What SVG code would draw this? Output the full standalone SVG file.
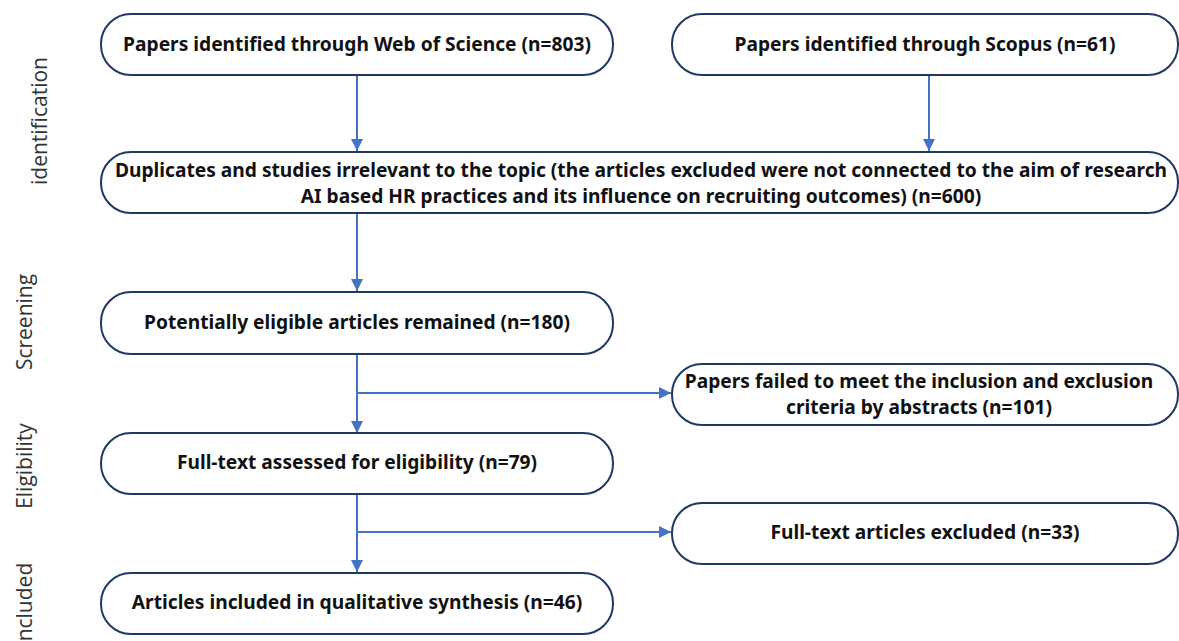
<svg xmlns="http://www.w3.org/2000/svg" width="1179" height="641" viewBox="0 0 1179 641">
<style>
.box{fill:#fff;stroke:#1F3864;stroke-width:2}
.t{font-family:"Noto Sans","Liberation Sans",Arial,sans-serif;font-weight:bold;font-size:19.2px;fill:#111;text-anchor:middle}
.side{font-family:"Open Sans","Liberation Sans",sans-serif;font-size:21px;fill:#333;text-anchor:middle}
.c{fill:none;stroke:#4472C4;stroke-width:2}
</style>
<defs>
<marker id="ah" viewBox="0 0 12 12" refX="12" refY="6" markerWidth="12" markerHeight="12" markerUnits="userSpaceOnUse" orient="auto">
<path d="M0,0 L12,6 L0,12 Z" fill="#4472C4"/>
</marker>
</defs>
<rect width="1179" height="641" fill="#fff"/>
<g id="labels">
<text class="side" transform="translate(47,121) rotate(-90)">identification</text>
<text class="side" transform="translate(32,322) rotate(-90)">Screening</text>
<text class="side" transform="translate(32,466) rotate(-90)">Eligibility</text>
<text class="side" transform="translate(32,605) rotate(-90)">Included</text>
</g>
<g id="connectors">
<line class="c" x1="357" y1="75" x2="357" y2="151" marker-end="url(#ah)"/>
<line class="c" x1="929" y1="75" x2="929" y2="151" marker-end="url(#ah)"/>
<line class="c" x1="357" y1="213" x2="357" y2="291" marker-end="url(#ah)"/>
<line class="c" x1="357" y1="354" x2="357" y2="433" marker-end="url(#ah)"/>
<line class="c" x1="357" y1="393" x2="671" y2="393" marker-end="url(#ah)"/>
<line class="c" x1="357" y1="494" x2="357" y2="572" marker-end="url(#ah)"/>
<line class="c" x1="357" y1="532" x2="671" y2="532" marker-end="url(#ah)"/>
</g>
<g id="n1"><rect class="box" x="101" y="14" width="512" height="61" rx="30" ry="30"/><text class="t" x="357" y="51">Papers identified through Web of Science (n=803)</text></g>
<g id="n2"><rect class="box" x="672" y="14" width="506" height="61" rx="30" ry="30"/><text class="t" x="925" y="51">Papers identified through Scopus (n=61)</text></g>
<g id="n3"><rect class="box" x="101" y="152" width="1077" height="61" rx="30" ry="30"/><text class="t" x="641" y="177">Duplicates and studies irrelevant to the topic (the articles excluded were not connected to the aim of research</text><text class="t" x="641" y="203">AI based HR practices and its influence on recruiting outcomes) (n=600)</text></g>
<g id="n4"><rect class="box" x="101" y="292" width="512" height="62" rx="30" ry="30"/><text class="t" x="357" y="329">Potentially eligible articles remained (n=180)</text></g>
<g id="n5"><rect class="box" x="672" y="364" width="506" height="61" rx="30" ry="30"/><text class="t" x="919" y="388">Papers failed to meet the inclusion and exclusion</text><text class="t" x="919" y="414">criteria by abstracts (n=101)</text></g>
<g id="n6"><rect class="box" x="101" y="433" width="512" height="61" rx="30" ry="30"/><text class="t" x="357" y="469">Full-text assessed for eligibility (n=79)</text></g>
<g id="n7"><rect class="box" x="672" y="503" width="506" height="61" rx="30" ry="30"/><text class="t" x="925" y="539">Full-text articles excluded (n=33)</text></g>
<g id="n8"><rect class="box" x="101" y="573" width="512" height="61" rx="30" ry="30"/><text class="t" x="357" y="609">Articles included in qualitative synthesis (n=46)</text></g>
</svg>
